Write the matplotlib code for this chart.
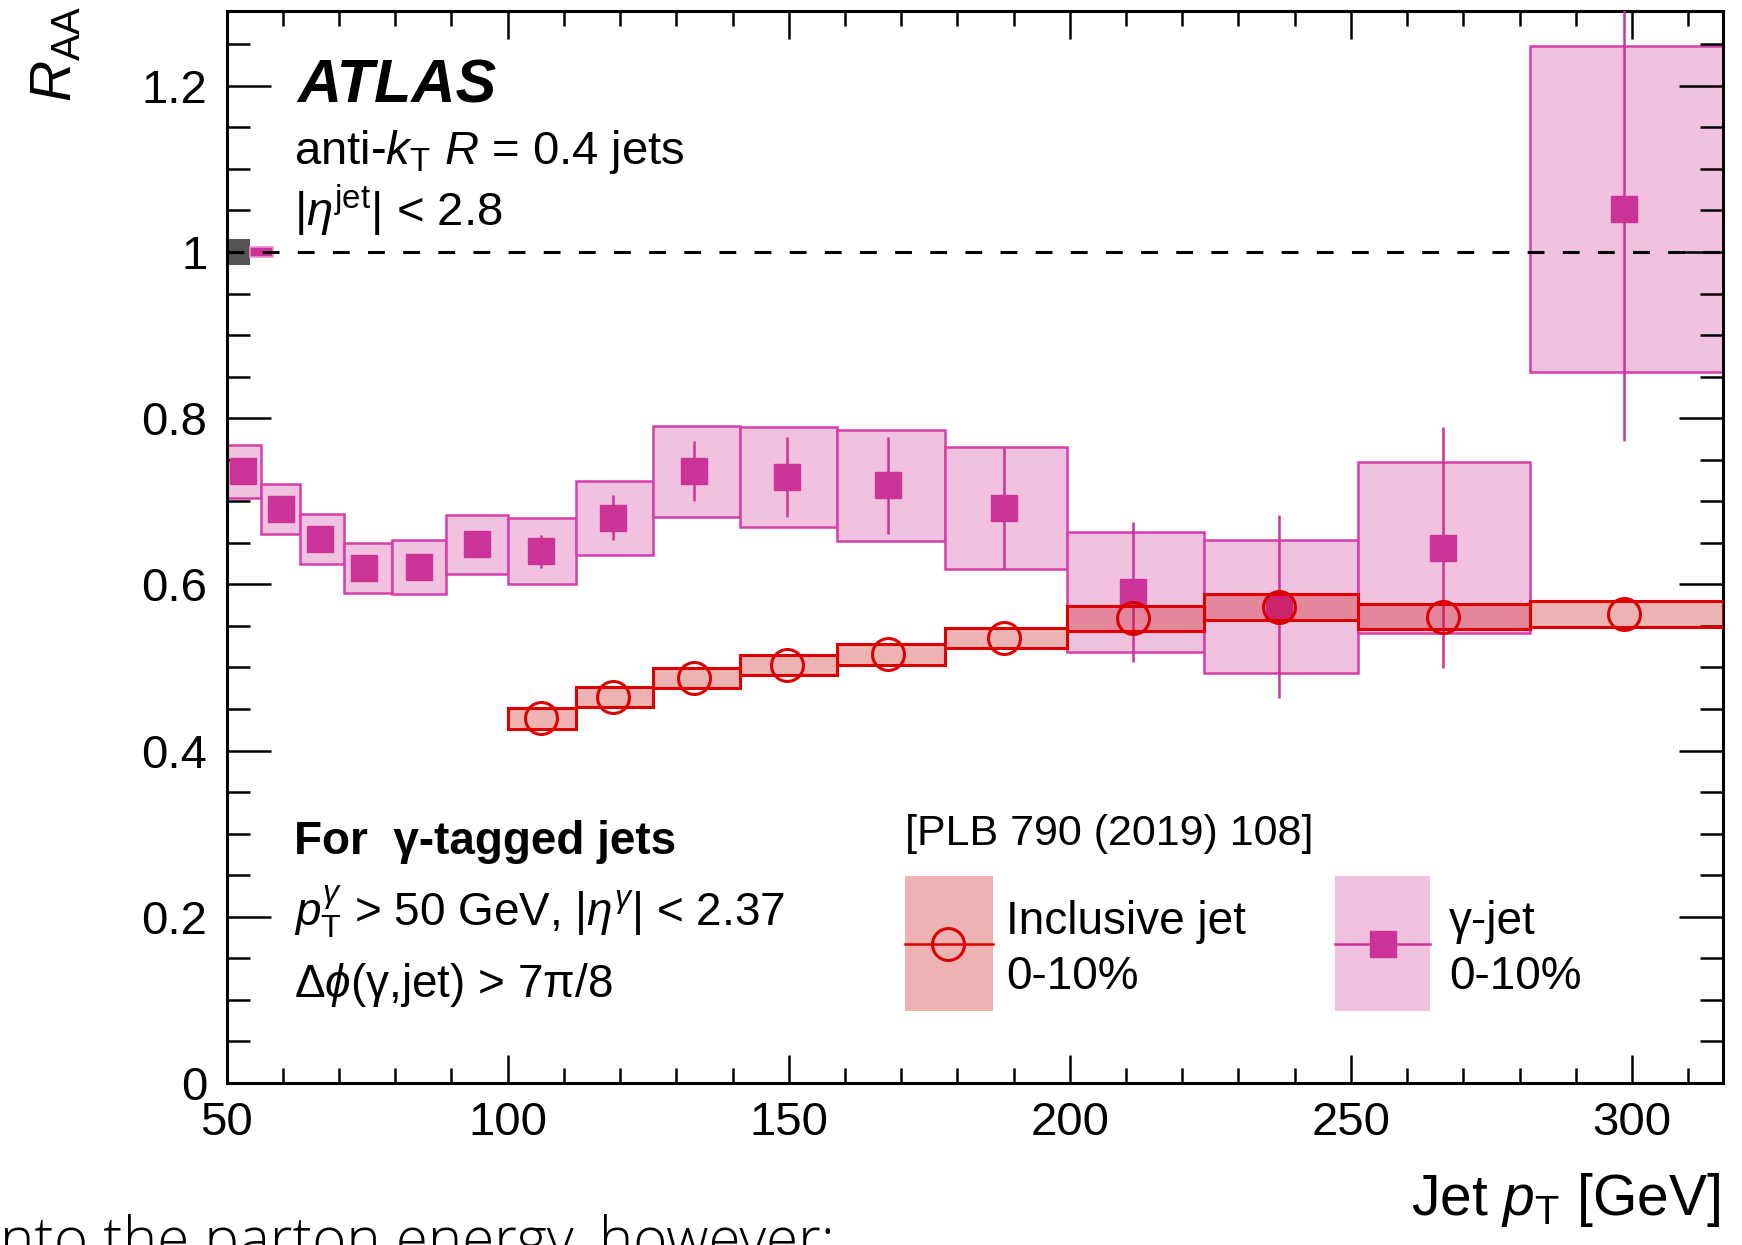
import numpy as np
import matplotlib
matplotlib.use('Agg')
import matplotlib.pyplot as plt
from matplotlib.patches import Rectangle
from matplotlib.ticker import MultipleLocator, FuncFormatter

plt.rcParams['font.family'] = ['Liberation Sans', 'DejaVu Sans']
plt.rcParams['mathtext.fontset'] = 'custom'
plt.rcParams['mathtext.rm'] = 'Liberation Sans'
plt.rcParams['mathtext.it'] = 'Liberation Sans:italic'
plt.rcParams['mathtext.bf'] = 'Liberation Sans:bold'

# jet pT bin edges [GeV]
bin_edges = [50.1, 56.2, 63.1, 70.8, 79.4, 89.1, 100.0, 112.2, 125.9,
             141.3, 158.5, 177.8, 199.5, 223.9, 251.2, 281.8, 316.2]

# photon-tagged jets, 0-10%
gj_pt = [53.0, 59.6, 66.6, 74.5, 84.2, 94.5, 106.0, 118.7,
         133.2, 149.6, 167.6, 188.3, 211.2, 237.3, 266.3, 298.6]
gj_raa = [0.736, 0.691, 0.655, 0.620, 0.621, 0.648, 0.640, 0.680,
          0.736, 0.729, 0.719, 0.692, 0.591, 0.573, 0.644, 1.052]
gj_stat = [0.006, 0.006, 0.007, 0.007, 0.008, 0.009, 0.020, 0.027,
           0.036, 0.048, 0.058, 0.073, 0.084, 0.110, 0.145, 0.280]
gj_syst = [0.032, 0.030, 0.030, 0.030, 0.032, 0.036, 0.040, 0.045,
           0.055, 0.060, 0.067, 0.073, 0.072, 0.080, 0.103, 0.196]

# inclusive jets, 0-10% [PLB 790 (2019) 108], starts at the 100 GeV bin
inc_first_bin = 6
inc_pt = [106.0, 118.7, 133.2, 149.6, 167.6, 188.3, 211.2, 237.3, 266.3, 298.6]
inc_raa = [0.439, 0.465, 0.487, 0.503, 0.516, 0.536, 0.559, 0.573, 0.561, 0.564]
inc_syst = [0.0125, 0.012, 0.012, 0.0125, 0.0125, 0.012, 0.0145, 0.016, 0.015, 0.0155]

# global normalisation uncertainties at unity
norm_taa = 0.0156
norm_gj = 0.006

mag = '#CC3399'
mag_fill = '#F0C2E0'
mag_edge = '#D63FAA'
red = '#DD0000'
red_fill = (0.8, 0.0, 0.0, 0.3)

fig = plt.figure(figsize=(17.42, 12.45), dpi=100)
ax = fig.add_axes([0.1301, 0.1301, 0.8590, 0.8611])

edges = np.array(bin_edges)
lo = edges[:-1]
wid = np.diff(edges)

raa = np.array(gj_raa)
syst = np.array(gj_syst)
ax.bar(lo, 2 * syst, bottom=raa - syst, width=wid, align='edge',
       color=mag_fill, edgecolor=mag_edge, linewidth=1.8, zorder=1)

# normalisation boxes
ax.bar([50.2], [2 * norm_taa], bottom=1 - norm_taa, width=3.9, align='edge',
       color='#555555', linewidth=0, zorder=2)
ax.bar([54.1], [2 * norm_gj], bottom=1 - norm_gj, width=4.1, align='edge',
       color=mag, edgecolor='#F090CC', linewidth=1.2, zorder=2)

ax.axhline(1.0, color='k', lw=2.2, dashes=(5.5, 6), zorder=3)

ax.errorbar(gj_pt, gj_raa, yerr=gj_stat, fmt='s', color=mag, ms=19,
            elinewidth=1.8, capsize=0, zorder=4)

iraa = np.array(inc_raa)
isyst = np.array(inc_syst)
ax.bar(lo[inc_first_bin:], 2 * isyst, bottom=iraa - isyst, width=wid[inc_first_bin:],
       align='edge', color=red_fill, edgecolor=red, linewidth=2.2, zorder=5)
ax.plot(inc_pt, inc_raa, 'o', mfc='none', mec=red, mew=2.2, ms=23, zorder=6)

ax.set_xlim(50, 316.2)
ax.set_ylim(0, 1.29)
ax.xaxis.set_major_locator(MultipleLocator(50))
ax.xaxis.set_minor_locator(MultipleLocator(10))
ax.yaxis.set_major_locator(MultipleLocator(0.2))
ax.yaxis.set_minor_locator(MultipleLocator(0.05))
ax.yaxis.set_major_formatter(FuncFormatter(lambda v, _: '%g' % round(v, 3)))
ax.tick_params(which='both', direction='in', top=True, right=True,
               width=1.8, labelsize=34, color='k')
ax.tick_params(axis='x', which='major', length=20, pad=13)
ax.tick_params(axis='x', which='minor', length=11)
ax.tick_params(axis='y', which='major', length=32, pad=14)
ax.tick_params(axis='y', which='minor', length=16.5)
for s in ax.spines.values():
    s.set_linewidth(2.2)

tr = ax.transAxes
ax.text(0.0475, 0.915, 'ATLAS', fontsize=44, weight='bold', style='italic', transform=tr)
ax.text(0.0453, 0.857, r'anti-$k_{\mathrm{T}}$ $R$ = 0.4 jets', fontsize=34, transform=tr)
ax.text(0.0453, 0.800, r'$|\eta^{\mathrm{jet}}|$ < 2.8', fontsize=34, transform=tr)

ax.text(0.0453, 0.214, 'For  γ-tagged jets', fontsize=33, weight='bold', transform=tr)
ax.text(0.0453, 0.147, r'$p_{\mathrm{T}}^{\gamma}$ > 50 GeV, $|\eta^{\gamma}|$ < 2.37',
        fontsize=33, transform=tr)
ax.text(0.0453, 0.080, r'$\Delta\phi$(γ,jet) > 7π/8', fontsize=33, transform=tr)

# legend
ax.text(0.4536, 0.222, '[PLB 790 (2019) 108]', fontsize=31, transform=tr)
ax.add_patch(Rectangle((0.4536, 0.067), 0.0586, 0.126, transform=tr,
                       facecolor=red_fill, linewidth=0, zorder=7))
ax.plot([0.4536, 0.5122], [0.130, 0.130], color=red, lw=1.8, transform=tr, zorder=8)
ax.plot([0.482], [0.130], 'o', mfc='none', mec=red, mew=2.2, ms=23, transform=tr, zorder=8)
ax.text(0.521, 0.1386, 'Inclusive jet', fontsize=33, transform=tr)
ax.text(0.521, 0.0879, '0-10%', fontsize=33, transform=tr)

ax.add_patch(Rectangle((0.741, 0.067), 0.063, 0.126, transform=tr,
                       facecolor=mag_fill, linewidth=0, zorder=7))
ax.plot([0.741, 0.804], [0.130, 0.130], color=mag, lw=1.8, transform=tr, zorder=8)
ax.plot([0.773], [0.130], 's', color=mag, ms=19, transform=tr, zorder=8)
ax.text(0.817, 0.1386, 'γ-jet', fontsize=33, transform=tr)
ax.text(0.817, 0.0879, '0-10%', fontsize=33, transform=tr)

# axis titles, ROOT style
ax.text(-0.114, 1.005, r'$R_{\mathrm{AA}}$', rotation=90, ha='center', va='top',
        fontsize=41, transform=tr)
ax.text(0.998, -0.123, r'Jet $p_{\mathrm{T}}$ [GeV]', ha='right', va='baseline',
        fontsize=41, transform=tr)

# running text of the page below the figure
fig.text(0.0, -0.011, 'nto the parton energy, however:', fontsize=42,
         family=['Open Sans', 'DejaVu Sans'], weight='light', va='baseline')

fig.savefig('out.png', dpi=100)
